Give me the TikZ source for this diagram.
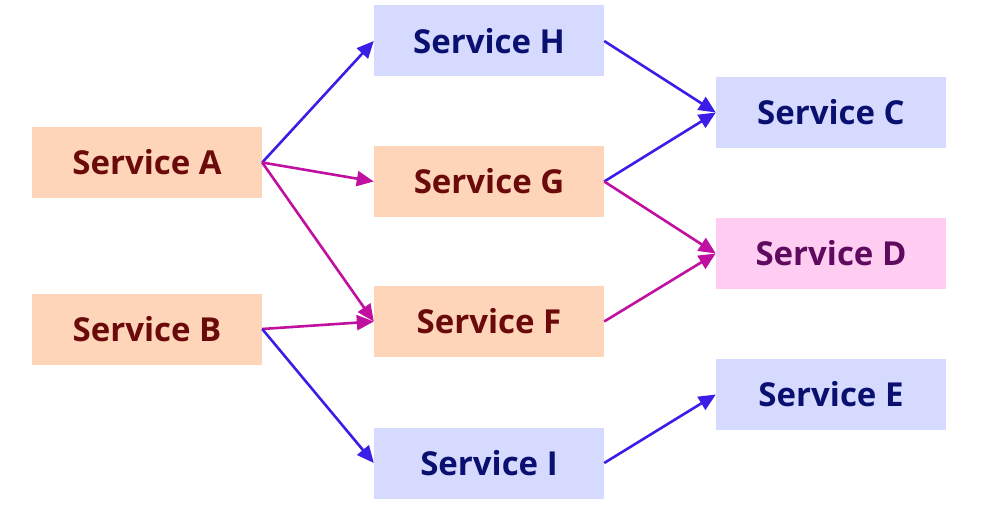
\documentclass[tikz,border=0pt]{standalone}
\usepackage{fontspec}
\setmainfont{Open Sans}
\usetikzlibrary{arrows.meta}
\definecolor{peach}{HTML}{FFD5BA}
\definecolor{lav}{HTML}{D6DAFF}
\definecolor{pinkf}{HTML}{FFCCF2}
\definecolor{dred}{HTML}{6B0A0A}
\definecolor{navy}{HTML}{0A1070}
\definecolor{dpurp}{HTML}{5E0A5E}
\definecolor{barrow}{HTML}{3A1EE8}
\definecolor{marrow}{HTML}{C010A0}
\tikzset{
  svc/.style={minimum width=230pt,minimum height=71pt,inner sep=0pt,font=\fontsize{33}{38}\selectfont\bfseries},
  orange/.style={svc,fill=peach,text=dred},
  blue/.style={svc,fill=lav,text=navy},
  pinkbox/.style={svc,fill=pinkf,text=dpurp},
  conn/.style={line width=2.6pt,-{Triangle[length=17pt,width=15pt]}},
  bconn/.style={conn,draw=barrow},
  mconn/.style={conn,draw=marrow},
}
\begin{document}
\begin{tikzpicture}[x=1pt,y=-1pt]
\useasboundingbox (0,0) rectangle (985,508);
\node[orange] (A) at (147,162.5) {Service A};
\node[orange] (B) at (147,329) {Service B};
\node[blue] (H) at (489,41) {Service H};
\node[orange] (G) at (489,181.5) {Service G};
\node[orange] (F) at (489,321.5) {Service F};
\node[blue] (I) at (489,463) {Service I};
\node[blue] (C) at (831,112.5) {Service C};
\node[pinkbox] (D) at (831,253.5) {Service D};
\node[blue] (E) at (831,394.5) {Service E};
\draw[bconn] (A.east) -- (H.west);
\draw[mconn] (A.east) -- (G.west);
\draw[mconn] (A.east) -- (F.west);
\draw[mconn] (B.east) -- (F.west);
\draw[bconn] (B.east) -- (I.west);
\draw[bconn] (H.east) -- (C.west);
\draw[bconn] (G.east) -- (C.west);
\draw[mconn] (G.east) -- (D.west);
\draw[mconn] (F.east) -- (D.west);
\draw[bconn] (I.east) -- (E.west);
\end{tikzpicture}
\end{document}
